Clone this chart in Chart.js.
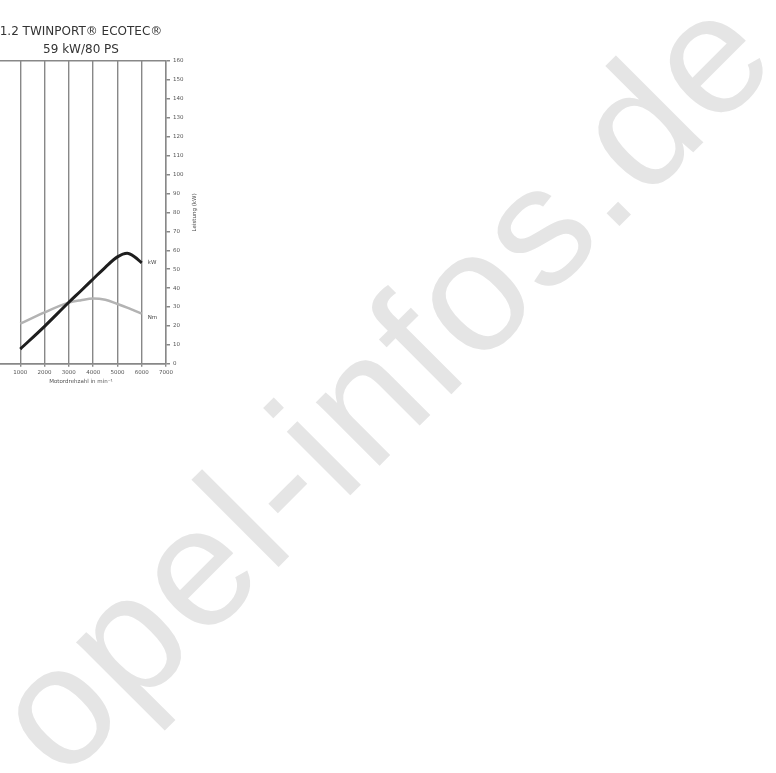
<!DOCTYPE html>
<html><head><meta charset="utf-8">
<script src="https://cdn.jsdelivr.net/npm/chart.js@4"></script>
<style>
html,body{margin:0;padding:0;background:#fff;width:776px;height:773px;overflow:hidden;position:relative;}
#wrap{position:absolute;left:-50px;top:0;width:256px;height:400px;}
#wm{position:absolute;left:381px;top:381px;transform:translate(-50%,-50%) rotate(-45deg);font-family:"Liberation Sans";font-weight:400;font-size:170px;letter-spacing:3.5px;line-height:1;color:#e5e5e5;white-space:nowrap;}
</style></head><body>
<div id="wm">opel-infos.de</div>
<div id="wrap"><canvas id="c"></canvas></div>
<script>
const titleLines = ['1.2 TWINPORT® ECOTEC®', '59 kW/80 PS'];
const rpm = [1000, 2000, 3000, 3500, 4000, 4500, 5000, 5400, 5700, 6000];
const kW  = [7.8, 19.8, 32.5, 38.6, 44.8, 51.0, 56.5, 58.4, 56.6, 53.3];
const nm  = [21.2, 27.2, 32.3, 33.6, 34.5, 33.8, 31.6, 29.7, 28.1, 26.5];
const seriesLabels = ['kW', 'Nm'];
const xTitle = 'Motordrehzahl in min⁻¹';
const yTitle = 'Leistung (kW)';
const xMin = 0, xMax = 7000, xStep = 1000;
const yMin = 0, yMax = 160, yStep = 10;

const FONT = '"DejaVu Sans", sans-serif';
const GRID = '#888888';

const labelPlugin = {
  id: 'seriesLabels',
  afterDatasetsDraw(chart) {
    const ctx = chart.ctx;
    ctx.save();
    ctx.font = '5.5px ' + FONT;
    ctx.fillStyle = '#444';
    ctx.textBaseline = 'middle';
    ctx.textAlign = 'left';
    chart.data.datasets.forEach((ds, i) => {
      const meta = chart.getDatasetMeta(i);
      const p = meta.data[meta.data.length - 1];
      ctx.fillText(ds.label, p.x + 6, p.y + (i === 0 ? 0 : 3.5));
    });
    const ys = chart.scales.y;
    ctx.translate(ys.right - 11, (chart.chartArea.top + chart.chartArea.bottom) / 2);
    ctx.rotate(-Math.PI / 2);
    ctx.textAlign = 'center';
    ctx.fillText(yTitle, 0, 0);
    ctx.restore();
  }
};

new Chart(document.getElementById('c'), {
  type: 'line',
  data: {
    datasets: [
      { label: seriesLabels[0], data: rpm.map((r, i) => ({x: r, y: kW[i]})),
        borderColor: '#1e1e1e', borderWidth: 3, pointRadius: 0, cubicInterpolationMode: 'monotone', fill: false },
      { label: seriesLabels[1], data: rpm.map((r, i) => ({x: r, y: nm[i]})),
        borderColor: '#b3b3b3', borderWidth: 2.5, pointRadius: 0, cubicInterpolationMode: 'monotone', fill: false }
    ]
  },
  options: {
    responsive: true, maintainAspectRatio: false, animation: false,
    layout: { padding: { left: 46, right: 0, top: 0, bottom: 15 } },
    plugins: {
      legend: { display: false }, tooltip: { enabled: false },
      title: { display: true, text: titleLines, fullSize: false, color: '#333',
        font: { family: FONT, size: 12, weight: 'normal', lineHeight: 18/12 },
        padding: { top: 23, bottom: 2 } }
    },
    scales: {
      x: { type: 'linear', min: xMin, max: xMax,
        ticks: { stepSize: xStep, color: '#555', font: { family: FONT, size: 5.5 }, padding: 2, maxRotation: 0,
          callback: v => v === 0 ? '' : String(v) },
        grid: { color: GRID, lineWidth: 1.4, tickLength: 3, tickColor: GRID },
        border: { color: GRID, width: 1.5 },
        title: { display: true, text: xTitle, color: '#555', font: { family: FONT, size: 5.5 }, padding: { top: 1, bottom: 0 } }
      },
      y: { position: 'right', min: yMin, max: yMax,
        ticks: { stepSize: yStep, color: '#555', font: { family: FONT, size: 5.5 }, padding: 3 },
        grid: { color: c => (c.tick && (c.tick.value === yMax || c.tick.value === yMin)) ? GRID : 'rgba(0,0,0,0)',
          lineWidth: 1.5, tickLength: 4, tickColor: GRID },
        border: { color: GRID, width: 1.4 },
        afterFit: s => { s.width = 40; }
      }
    }
  },
  plugins: [labelPlugin]
});
</script>
</body></html>
